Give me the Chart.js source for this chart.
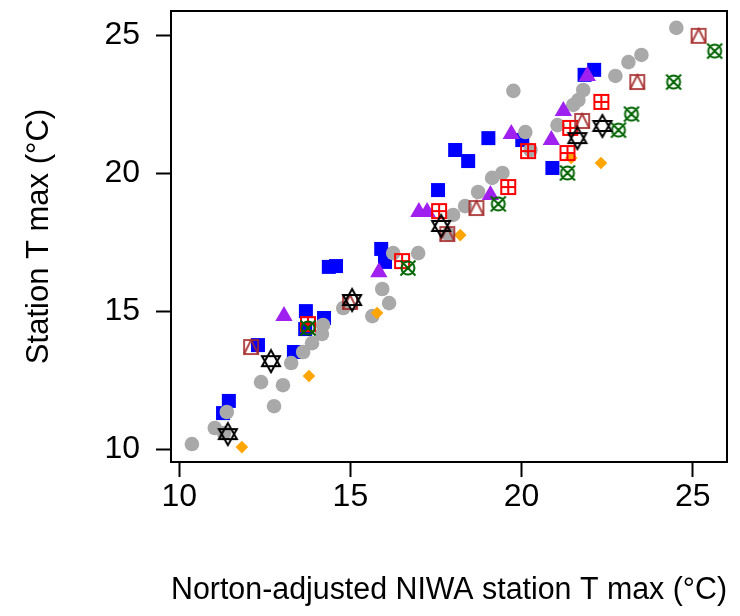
<!DOCTYPE html>
<html>
<head>
<meta charset="utf-8">
<script src="https://cdn.jsdelivr.net/npm/chart.js@4"></script>
<style>
    html, body { margin: 0; padding: 0; background: #fff; }
    #tmaxScatter { display: block; }
</style>
</head>
<body>
<canvas id="tmaxScatter" width="740" height="616"></canvas>
<script>
// axis ticks
const xTicks = [10, 15, 20, 25];
const yTicks = [10, 15, 20, 25];

// one pair of arrays per station group: adjusted NIWA Tmax (x) vs station Tmax (y)
const greyX = [10.37, 11.04, 11.31, 11.39, 12.77, 12.39, 13.03, 13.27, 13.62, 13.88, 14.17, 14.20, 14.79, 15.64, 15.93, 16.13, 16.25, 16.98, 17.86, 18.00, 18.35, 18.73, 19.14, 19.44, 19.76, 20.11, 20.26, 21.05, 21.51, 21.66, 21.80, 22.74, 23.12, 23.50, 24.52];
const greyY = [10.20, 10.78, 10.60, 11.36, 11.57, 12.44, 12.33, 13.13, 13.53, 13.85, 14.18, 14.51, 15.12, 14.83, 15.81, 15.30, 17.11, 17.11, 17.80, 18.49, 18.81, 19.32, 19.83, 20.01, 22.98, 21.49, 20.84, 21.74, 22.47, 22.65, 23.01, 23.52, 24.02, 24.28, 25.26];

const blueX = [11.28, 11.45, 12.30, 13.35, 13.70, 13.68, 14.23, 14.37, 14.58, 15.90, 16.01, 17.56, 18.06, 18.44, 19.03, 20.02, 20.90, 21.84, 22.12];
const blueY = [11.32, 11.76, 13.78, 13.53, 15.01, 14.36, 14.76, 16.61, 16.64, 17.26, 16.79, 19.39, 20.84, 20.44, 21.27, 21.20, 20.19, 23.56, 23.74];

const purpleX = [13.06, 15.83, 17.00, 17.24, 19.09, 19.70, 20.87, 21.22, 21.92];
const purpleY = [14.83, 16.42, 18.60, 18.60, 19.21, 21.42, 21.20, 22.25, 23.52];

const orangeX = [11.83, 13.79, 15.78, 18.21, 21.45, 22.32];
const orangeY = [10.09, 12.66, 14.94, 17.76, 20.55, 20.37];

const redX = [13.76, 16.51, 17.59, 19.61, 20.19, 21.34, 21.42, 22.33];
const redY = [14.54, 16.82, 18.63, 19.50, 20.80, 20.73, 21.64, 22.58];

const brownX = [12.10, 14.99, 17.83, 18.68, 21.77, 23.38, 25.17];
const brownY = [13.71, 15.34, 17.80, 18.74, 21.89, 23.30, 24.97];

const greenX = [13.76, 16.68, 19.32, 21.34, 22.83, 23.21, 24.44, 25.64];
const greenY = [14.40, 16.57, 18.89, 20.01, 21.56, 22.14, 23.30, 24.42];

const blackX = [11.42, 12.68, 15.05, 17.65, 21.63, 22.36];
const blackY = [10.56, 13.20, 15.41, 18.09, 21.27, 21.71];

function pairs(xs, ys) {
    return xs.map((x, i) => ({x: x, y: ys[i]}));
}

// small canvases used as point styles for the open symbols
function makeMarker(size, draw) {
    const c = document.createElement('canvas');
    c.width = size;
    c.height = size;
    const g = c.getContext('2d');
    g.lineWidth = 2;
    draw(g, size / 2);
    return c;
}

const squarePlus = makeMarker(24, function (g, m) {
    g.strokeStyle = '#ff0000';
    g.strokeRect(m - 7, m - 7, 14, 14);
    g.beginPath();
    g.moveTo(m, m - 7); g.lineTo(m, m + 7);
    g.moveTo(m - 7, m); g.lineTo(m + 7, m);
    g.stroke();
});

const squareTriangle = makeMarker(24, function (g, m) {
    g.strokeStyle = 'rgba(165, 42, 42, 0.85)';
    g.strokeRect(m - 7, m - 7, 14, 14);
    g.beginPath();
    g.moveTo(m - 7, m + 7); g.lineTo(m, m - 7); g.lineTo(m + 7, m + 7);
    g.stroke();
});

const circleCross = makeMarker(24, function (g, m) {
    g.strokeStyle = '#006400';
    g.beginPath();
    g.arc(m, m, 6.5, 0, Math.PI * 2);
    g.moveTo(m - 7.5, m - 7.5); g.lineTo(m + 7.5, m + 7.5);
    g.moveTo(m + 7.5, m - 7.5); g.lineTo(m - 7.5, m + 7.5);
    g.stroke();
});

const upDownStar = makeMarker(26, function (g, m) {
    g.strokeStyle = '#000000';
    g.beginPath();
    g.moveTo(m, m - 11); g.lineTo(m + 9, m + 5); g.lineTo(m - 9, m + 5); g.closePath();
    g.moveTo(m, m + 11); g.lineTo(m + 9, m - 5); g.lineTo(m - 9, m - 5); g.closePath();
    g.stroke();
});

const fontFamily = "'Liberation Sans', Arial, sans-serif";
const tickFont = {family: fontFamily, size: 32};
const titleFont = {family: fontFamily, size: 31};

// full box around the plotting region
const plotBox = {
    id: 'plotBox',
    afterDraw(chart) {
        const a = chart.chartArea;
        const c = chart.ctx;
        c.save();
        c.strokeStyle = '#000';
        c.lineWidth = 2;
        c.strokeRect(a.left, a.top, a.right - a.left, a.bottom - a.top);
        c.restore();
    }
};

// keep the axes from reserving extra room for edge labels
function noEdgePadding(scale) {
    scale.paddingTop = 0;
    scale.paddingBottom = 0;
    scale.paddingLeft = 0;
    scale.paddingRight = 0;
}

const ctx = document.getElementById('tmaxScatter');

new Chart(ctx, {
    type: 'scatter',
    data: {
        datasets: [
            {label: 'black', data: pairs(blackX, blackY), pointStyle: upDownStar, pointRadius: 10, order: 0},
            {label: 'green', data: pairs(greenX, greenY), pointStyle: circleCross, pointRadius: 8, order: 1},
            {label: 'brown', data: pairs(brownX, brownY), pointStyle: squareTriangle, pointRadius: 8, order: 2},
            {label: 'red', data: pairs(redX, redY), pointStyle: squarePlus, pointRadius: 8, order: 3},
            {label: 'orange', data: pairs(orangeX, orangeY), pointStyle: 'rectRot', pointRadius: 6.3,
                backgroundColor: '#ffa500', borderWidth: 0, order: 4},
            {label: 'purple', data: pairs(purpleX, purpleY), pointStyle: 'triangle', pointRadius: 10,
                backgroundColor: '#a020f0', borderWidth: 0, order: 5},
            {label: 'grey', data: pairs(greyX, greyY), pointStyle: 'circle', pointRadius: 7.3,
                backgroundColor: '#a9a9a9', borderWidth: 0, order: 6},
            {label: 'blue', data: pairs(blueX, blueY), pointStyle: 'rect', pointRadius: 9.9,
                backgroundColor: '#0000ff', borderWidth: 0, order: 7}
        ]
    },
    options: {
        responsive: false,
        animation: false,
        devicePixelRatio: 1,
        layout: {
            padding: {top: 11, right: 13, left: 0, bottom: 0}
        },
        plugins: {
            legend: {display: false},
            tooltip: {enabled: false}
        },
        scales: {
            x: {
                type: 'linear',
                min: 9.76,
                max: 26.0,
                afterBuildTicks: function (scale) {
                    scale.ticks = xTicks.map(v => ({value: v}));
                },
                afterFit: function (scale) {
                    scale.height = 154;
                    noEdgePadding(scale);
                },
                border: {display: false},
                grid: {
                    drawOnChartArea: false,
                    drawTicks: true,
                    tickLength: 15,
                    tickWidth: 2,
                    tickColor: '#000'
                },
                ticks: {
                    color: '#000',
                    font: tickFont,
                    padding: 1,
                    maxRotation: 0
                },
                title: {
                    display: true,
                    text: 'Norton-adjusted NIWA station T max (°C)',
                    color: '#000',
                    font: titleFont,
                    padding: {top: 0, bottom: 7}
                }
            },
            y: {
                type: 'linear',
                min: 9.55,
                max: 25.87,
                afterBuildTicks: function (scale) {
                    scale.ticks = yTicks.map(v => ({value: v}));
                },
                afterFit: function (scale) {
                    scale.width = 171;
                    noEdgePadding(scale);
                },
                border: {display: false},
                grid: {
                    drawOnChartArea: false,
                    drawTicks: true,
                    tickLength: 15,
                    tickWidth: 2,
                    tickColor: '#000'
                },
                ticks: {
                    color: '#000',
                    font: tickFont,
                    padding: 16
                },
                title: {
                    display: true,
                    text: 'Station T max (°C)',
                    color: '#000',
                    font: titleFont,
                    padding: {top: 21, bottom: 0}
                }
            }
        }
    },
    plugins: [plotBox]
});
</script>
</body>
</html>
